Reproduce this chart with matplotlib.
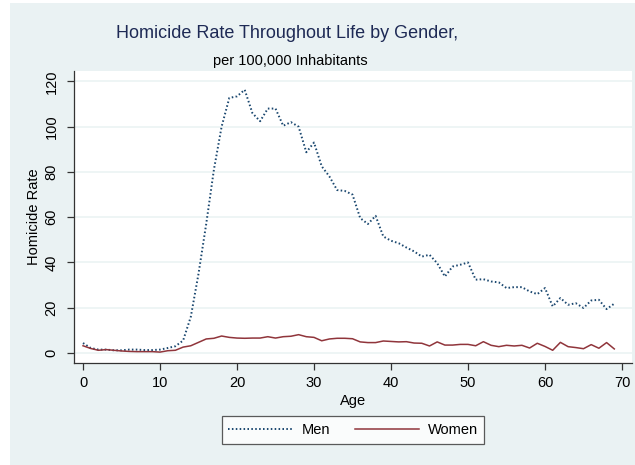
import matplotlib
matplotlib.use("Agg")
import matplotlib.pyplot as plt
from matplotlib.patches import Rectangle
import numpy as np

plt.rcParams['font.family'] = ['Liberation Sans', 'DejaVu Sans']

# homicide rate per 100,000 by single year of age
ages = np.arange(0, 70)
men = [4.4, 2.2, 1.5, 1.5, 1.2, 1.2, 1.5, 1.5, 1.3, 1.3,
       1.5, 2.2, 3.0, 5.5, 16, 35, 57, 81, 100, 112.7,
       113.4, 116.3, 106, 102.4, 108, 108, 100.4, 102, 100, 88.7,
       93, 82.5, 78, 72, 71.6, 70, 59.6, 57, 60.6, 51.5,
       49.6, 48.5, 46.6, 44.9, 42.6, 43.4, 39.7, 33.8, 38.2, 39,
       40, 32.4, 32.6, 31.6, 31.2, 28.7, 29.1, 29.1, 27.2, 26,
       28.7, 20.6, 24.3, 21.3, 22, 19.9, 23.2, 23.5, 19.4, 21.8]
women = [3.2, 2.0, 1.2, 1.5, 1.2, 0.9, 0.7, 0.6, 0.6, 0.6,
         0.4, 1.0, 1.2, 2.6, 3.2, 4.7, 6.2, 6.5, 7.5, 6.9,
         6.6, 6.5, 6.6, 6.6, 7.2, 6.6, 7.2, 7.4, 8.1, 7.2,
         6.9, 5.4, 6.2, 6.5, 6.5, 6.3, 4.9, 4.6, 4.6, 5.3,
         5.1, 4.9, 5.0, 4.4, 4.3, 3.1, 4.9, 3.5, 3.5, 3.8,
         3.8, 3.2, 5.0, 3.4, 2.8, 3.4, 3.1, 3.4, 2.2, 4.3,
         2.9, 1.2, 4.7, 2.8, 2.4, 1.9, 3.7, 2.1, 4.6, 1.8]
xticks = [0, 10, 20, 30, 40, 50, 60, 70]
yticks = [0, 20, 40, 60, 80, 100, 120]

bg = '#EAF2F3'
navy = '#1A476F'
maroon = '#90353B'

fig = plt.figure(figsize=(6.35, 4.65), dpi=100)
fig.patch.set_facecolor('white')
fig.patches.append(Rectangle((10 / 635, 0), 1, 462 / 465, transform=fig.transFigure,
                             facecolor=bg, edgecolor='none', zorder=-10))

ax = fig.add_axes([74 / 635, 1 - 363 / 465, 558 / 635, 292 / 465])
ax.set_zorder(1)
ax.set_facecolor('white')

for y in yticks:
    ax.axhline(y, color=bg, lw=1.1, zorder=1)

ax.plot(ages, men, color=navy, lw=1.4, linestyle=(0, (0.8, 1.2)), label='Men', zorder=3)
ax.plot(ages, women, color=maroon, lw=1.1, label='Women', zorder=3)

ax.set_xlim(-1.17, 71.3)
ax.set_ylim(-4.42, 124.6)
ax.set_xticks(xticks)
ax.set_yticks(yticks)
ax.tick_params(axis='both', direction='out', length=5, width=0.9, color='#333333',
               labelsize=10.5, pad=4)
ax.tick_params(axis='y', pad=6)
for lbl in ax.get_yticklabels():
    lbl.set_rotation(90)
    lbl.set_va('center')

for s in ['top', 'right']:
    ax.spines[s].set_visible(False)
for s in ['left', 'bottom']:
    ax.spines[s].set_color('#333333')
    ax.spines[s].set_linewidth(0.9)

ax.set_xlabel('Age', fontsize=10.5, labelpad=3)
ax.set_ylabel('Homicide Rate', fontsize=10.5, labelpad=3)

fig.text(287 / 635, 1 - 33 / 465, 'Homicide Rate Throughout Life by Gender,',
         ha='center', va='center', fontsize=13, color='#1E2A55')
fig.text(290 / 635, 1 - 61 / 465, 'per 100,000 Inhabitants',
         ha='center', va='center', fontsize=10.5, color='black')

leg = fig.legend(loc='center', bbox_to_anchor=(353 / 635, 1 - 430 / 465), ncol=2,
                 frameon=True, fancybox=False, fontsize=10.5, handlelength=4.4,
                 columnspacing=1.7, handletextpad=0.6, borderpad=0.45)
leg.get_frame().set_edgecolor('#333333')
leg.get_frame().set_linewidth(0.9)

fig.savefig('out.png', dpi=100)
